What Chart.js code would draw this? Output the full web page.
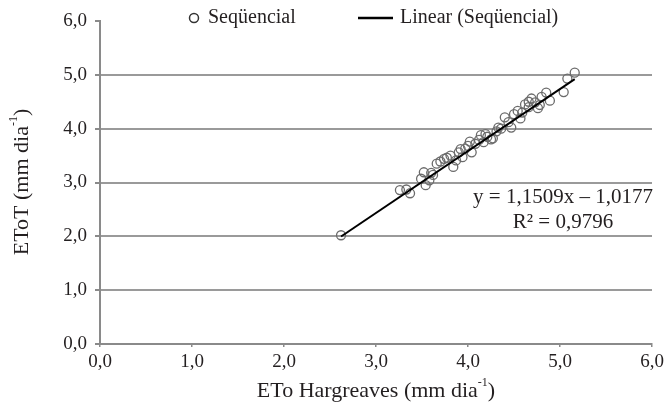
<!DOCTYPE html>
<html>
<head>
<meta charset="utf-8">
<script src="https://cdn.jsdelivr.net/npm/chart.js@4"></script>
<style>
  html, body { margin: 0; padding: 0; background: #fff; }
  #wrap { width: 668px; height: 408px; }
</style>
</head>
<body>
<div id="wrap"><canvas id="c" width="668" height="408"></canvas></div>
<script>
// ETo Hargreaves (x) vs EToT (y), mm/dia
const etoHargreaves = [2.62, 3.26, 3.33, 3.37, 3.49, 3.52, 3.54, 3.58, 3.60, 3.62, 3.66, 3.70, 3.74, 3.77, 3.81,
  3.84, 3.87, 3.90, 3.92, 3.94, 3.97, 4.00, 4.02, 4.04, 4.08, 4.12, 4.14, 4.17, 4.19, 4.21, 4.25, 4.27, 4.31,
  4.33, 4.36, 4.40, 4.44, 4.47, 4.50, 4.54, 4.57, 4.59, 4.62, 4.66, 4.66, 4.69, 4.73, 4.76, 4.78, 4.80, 4.85,
  4.89, 5.04, 5.08, 5.16];
const etoT = [2.02, 2.86, 2.87, 2.80, 3.07, 3.19, 2.95, 3.04, 3.18, 3.14, 3.35, 3.39, 3.44, 3.46, 3.50,
  3.29, 3.41, 3.56, 3.62, 3.47, 3.63, 3.68, 3.76, 3.56, 3.72, 3.79, 3.88, 3.75, 3.90, 3.85, 3.80, 3.82, 3.95,
  4.02, 4.00, 4.21, 4.12, 4.02, 4.27, 4.33, 4.19, 4.30, 4.45, 4.40, 4.50, 4.56, 4.49, 4.38, 4.44, 4.59, 4.67,
  4.52, 4.68, 4.93, 5.04];

// Fitted line: y = 1,1509x – 1,0177 ; R² = 0,9796
const slope = 1.1509;
const intercept = -1.0177;
const rSquared = '0,9796';

const axisTicks = [0, 1, 2, 3, 4, 5, 6];
const seriesLabel = 'Seqüencial';
const trendLabel = 'Linear (Seqüencial)';

const FONT = "'Liberation Serif', 'Times New Roman', serif";
const TEXT = '#231f20';
const AXIS = '#8a8a8a';

const points = etoHargreaves.map((x, i) => ({ x, y: etoT[i] }));
const xMin = Math.min(...etoHargreaves), xMax = Math.max(...etoHargreaves);
const trend = [xMin, xMax].map(x => ({ x, y: slope * x + intercept }));

const fmt = v => Number(v).toFixed(1).replace('.', ',');

// Draws text with a raised, smaller "-1" exponent followed by a closing bracket
function drawSup(ctx, base, sup, tail, x, y, size) {
  const small = Math.round(size * 0.55);
  ctx.font = size + 'px ' + FONT;
  const wb = ctx.measureText(base).width;
  const wt = ctx.measureText(tail).width;
  ctx.font = small + 'px ' + FONT;
  const ws = ctx.measureText(sup).width;
  let sx = x - (wb + ws + wt) / 2;
  ctx.textAlign = 'left';
  ctx.textBaseline = 'middle';
  ctx.font = size + 'px ' + FONT;
  ctx.fillText(base, sx, y);
  sx += wb;
  ctx.font = small + 'px ' + FONT;
  ctx.fillText(sup, sx, y - size * 0.36);
  sx += ws;
  ctx.font = size + 'px ' + FONT;
  ctx.fillText(tail, sx, y);
}

const annotations = {
  id: 'annotations',
  afterDraw(chart) {
    const { ctx, chartArea } = chart;
    ctx.save();
    ctx.fillStyle = TEXT;
    // Axis titles
    drawSup(ctx, 'ETo Hargreaves (mm dia', '-1', ')', (chartArea.left + chartArea.right) / 2, 391, 22);
    ctx.save();
    ctx.translate(22, 182);
    ctx.rotate(-Math.PI / 2);
    drawSup(ctx, 'EToT (mm dia', '-1', ')', 0, 0, 22);
    ctx.restore();

    // Regression equation
    ctx.font = '21px ' + FONT;
    ctx.textAlign = 'center';
    ctx.textBaseline = 'middle';
    ctx.fillText('y = 1,1509x – 1,0177', 563, 197);
    ctx.fillText('R² = ' + rSquared, 563, 222);

    // Legend
    const ly = 18;
    ctx.strokeStyle = '#333';
    ctx.lineWidth = 1.5;
    ctx.beginPath();
    ctx.arc(194, ly, 4.5, 0, Math.PI * 2);
    ctx.stroke();
    ctx.font = '20px ' + FONT;
    ctx.textAlign = 'left';
    ctx.fillText(seriesLabel, 208, ly);
    ctx.strokeStyle = '#000';
    ctx.lineWidth = 2.5;
    ctx.beginPath();
    ctx.moveTo(358, ly);
    ctx.lineTo(393, ly);
    ctx.stroke();
    ctx.fillText(trendLabel, 400, ly);
    ctx.restore();
  }
};

new Chart(document.getElementById('c'), {
  type: 'scatter',
  data: {
    datasets: [
      {
        label: seriesLabel,
        data: points,
        pointRadius: 4.5,
        pointHoverRadius: 4.5,
        pointBorderWidth: 1.3,
        borderColor: '#6b6b6b',
        backgroundColor: 'rgba(255,255,255,0)',
        order: 2
      },
      {
        label: trendLabel,
        type: 'line',
        data: trend,
        showLine: true,
        borderColor: '#000',
        borderWidth: 2,
        pointRadius: 0,
        fill: false,
        order: 1
      }
    ]
  },
  options: {
    responsive: false,
    animation: false,
    devicePixelRatio: 1,
    layout: { padding: { top: 21, right: 16, bottom: 0, left: 0 } },
    plugins: { legend: { display: false }, tooltip: { enabled: false } },
    scales: {
      x: {
        type: 'linear',
        min: 0, max: 6,
        afterBuildTicks: s => { s.ticks = axisTicks.map(v => ({ value: v })); },
        afterFit: s => { s.height = 64; },
        border: { display: true, color: AXIS, width: 2 },
        grid: { color: 'rgba(0,0,0,0)', tickColor: AXIS, tickLength: 3, lineWidth: 1.5, drawTicks: true },
        ticks: { callback: fmt, color: TEXT, font: { family: FONT, size: 19 }, padding: 4, maxRotation: 0 }
      },
      y: {
        type: 'linear',
        min: 0, max: 6,
        afterBuildTicks: s => { s.ticks = axisTicks.map(v => ({ value: v })); },
        afterFit: s => { s.width = 100; },
        border: { display: true, color: AXIS, width: 2 },
        grid: {
          color: c => (c.tick && (c.tick.value === 0 || c.tick.value === 6)) ? 'rgba(0,0,0,0)' : '#9a9a9a',
          lineWidth: 2,
          tickColor: AXIS,
          tickLength: 5
        },
        ticks: { callback: fmt, color: TEXT, font: { family: FONT, size: 19 }, padding: 8 }
      }
    }
  },
  plugins: [annotations]
});
</script>
</body>
</html>
